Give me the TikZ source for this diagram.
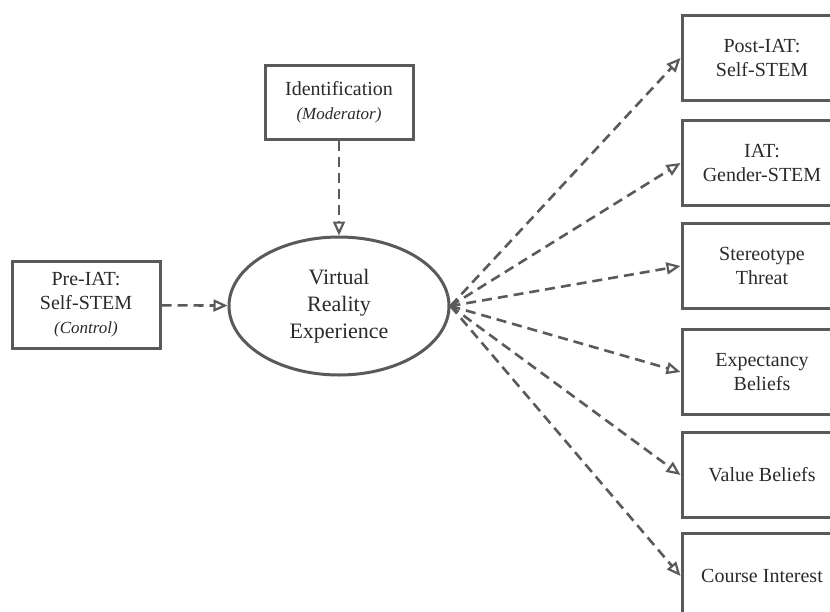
\documentclass[tikz,border=0pt]{standalone}
\usepackage{fontspec}
\setmainfont{Liberation Serif}
\usetikzlibrary{arrows.meta,shapes.geometric}
\definecolor{linegray}{HTML}{5A5A5A}
\definecolor{textgray}{HTML}{2A2A2A}
\begin{document}
\begin{tikzpicture}[x=1pt,y=-1pt,
	box/.style={draw=linegray,line width=3pt,align=center,text=textgray,inner sep=0pt,font=\fontsize{20}{24}\selectfont},
	outbox/.style={box,minimum width=160pt,minimum height=85pt},
	dasharrow/.style={draw=linegray,line width=2.6pt,dash pattern=on 10pt off 6pt,-{Triangle[open,length=14pt,width=12pt,line width=2.2pt]}}]
		\useasboundingbox (0,0) rectangle (830,611);
		\clip (0,0) rectangle (830,611);
		
		\node[box,minimum width=148pt,minimum height=87pt] (pre) at (86,305) {Pre-IAT:\\Self-STEM\\{\fontsize{17}{20}\selectfont\itshape (Control)}};
		\node[box,minimum width=148pt,minimum height=74pt] (ident) at (339,102) {Identification\\{\fontsize{17}{20}\selectfont\itshape (Moderator)}};
		\node[ellipse,draw=linegray,line width=3pt,text=textgray,align=center,inner sep=0pt,minimum width=220pt,minimum height=138pt,font=\fontsize{22}{27}\selectfont] (vr) at (339,306) {Virtual\\Reality\\Experience};
		
		\node[outbox] (post) at (762,58) {Post-IAT:\\Self-STEM};
		\node[outbox] (gender) at (762,163) {IAT:\\Gender-STEM};
		\node[outbox] (threat) at (762,266) {Stereotype\\Threat};
		\node[outbox] (expect) at (762,372) {Expectancy\\Beliefs};
		\node[outbox] (value) at (762,475) {Value Beliefs};
		\node[outbox] (course) at (762,576) {Course Interest};
		
		\draw[dasharrow] (ident) to (vr);
		\draw[dasharrow] (pre) to (vr);
		\draw[dasharrow] (vr.east) to (post.west);
		\draw[dasharrow] (vr.east) to (gender.west);
		\draw[dasharrow] (vr.east) to (threat.west);
		\draw[dasharrow] (vr.east) to (expect.west);
		\draw[dasharrow] (vr.east) to (value.west);
		\draw[dasharrow] (vr.east) to (course.west);
\end{tikzpicture}
\end{document}
